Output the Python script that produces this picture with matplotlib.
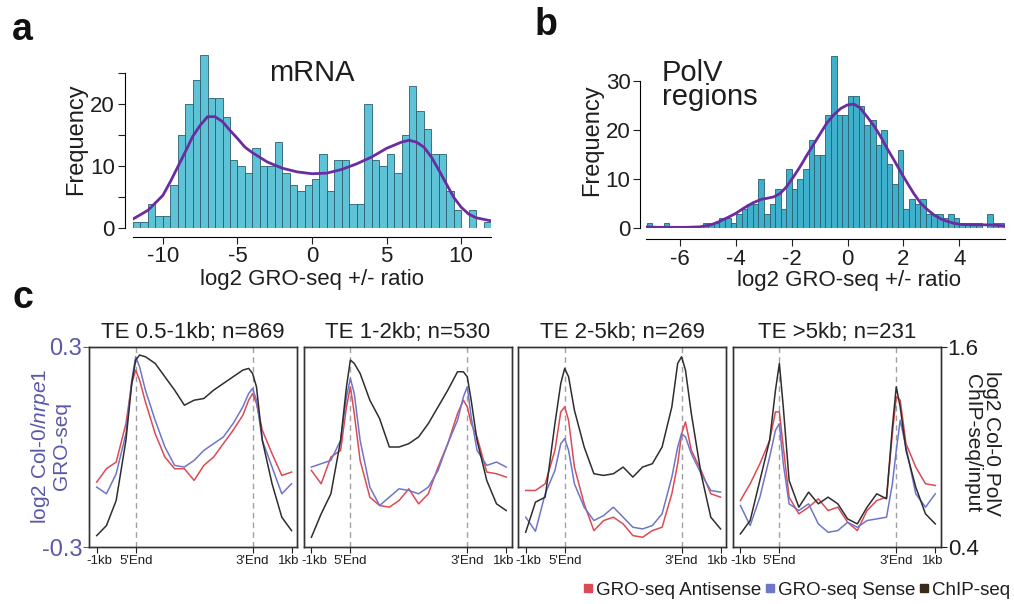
import numpy as np
import matplotlib
matplotlib.use("Agg")
import matplotlib.pyplot as plt
import matplotlib.transforms as mtransforms
from matplotlib.lines import Line2D

plt.rcParams['font.family'] = ['Liberation Sans', 'DejaVu Sans']
plt.rcParams['mathtext.fontset'] = 'custom'
plt.rcParams['mathtext.it'] = 'Liberation Sans:italic'
plt.rcParams['mathtext.rm'] = 'Liberation Sans'
plt.rcParams['axes.unicode_minus'] = False

# ---------------- data: panel a ----------------
a_bin_width = 0.5
a_bin_start = -12.0
a_counts = [1, 1, 4, 2, 2, 7, 15, 20, 24, 28, 21, 21, 18, 11, 10, 9, 13, 10, 10, 14,
            9, 7, 6, 7, 8, 12, 6, 11, 11, 4, 4, 20, 11, 10, 12, 9, 15, 23, 19, 16,
            12, 12, 6, 3, 0, 3, 0, 1]
a_kde_x = [-12, -11, -10, -9.5, -9, -8.5, -8, -7.5, -7, -6.5, -6, -5.5, -5, -4.5, -4,
           -3, -2, -1, 0, 1, 2, 3, 4, 5, 5.5, 6, 6.5, 7, 7.5, 8, 8.5, 9, 9.5, 10,
           10.5, 11, 12]
a_kde_y = [1.5, 2.9, 5.3, 7.5, 9.9, 12.3, 14.8, 16.6, 18.0, 18.0, 17.2, 15.8, 14.5,
           13.1, 12.2, 10.7, 9.7, 9.1, 8.8, 8.9, 9.5, 10.4, 11.5, 12.9, 13.4, 13.9,
           14.2, 13.9, 13.1, 11.5, 9.4, 7.2, 5.0, 3.4, 2.3, 1.7, 1.2]

# ---------------- data: panel b ----------------
b_bin_width = 0.2
b_bin_start = -7.2
b_counts = [1, 0, 0, 1, 0, 0, 0, 0, 0, 0, 1, 1, 1, 2, 2, 1, 3, 4, 5, 5,
            10, 3, 5, 8, 4, 12, 8, 10, 12, 18, 15, 15, 23, 35, 23, 23, 27, 27, 25, 21,
            22, 17, 20, 13, 9, 16, 4, 6, 5, 6, 3, 3, 3, 2, 3, 2, 1, 1, 1, 1,
            0, 3, 1, 1]
b_kde_x = [-7.23, -6.8, -6.27, -5.8, -5.3, -4.9, -4.59, -4.3, -3.99, -3.7, -3.39, -3.1,
           -2.9, -2.65, -2.42, -2.2, -1.94, -1.7, -1.46, -1.2, -0.98, -0.75, -0.5,
           -0.25, -0.02, 0.22, 0.45, 0.7, 0.95, 1.18, 1.42, 1.66, 1.9, 2.14, 2.38,
           2.62, 2.86, 3.1, 3.34, 3.58, 3.82, 4.06, 4.54, 5.14, 5.6]
b_kde_y = [0.3, 0.2, 0.2, 0.2, 0.3, 0.7, 1.4, 2.2, 3.1, 4.2, 5.2, 5.9, 6.1, 6.4, 7.1,
           8.4, 10.5, 12.6, 14.9, 17.3, 19.3, 21.4, 23.1, 24.4, 25.1, 25.3, 24.5, 22.7,
           20.8, 18.7, 16.2, 13.9, 11.5, 9.2, 7.0, 5.1, 3.8, 2.7, 1.9, 1.4, 1.0, 0.8,
           0.7, 0.7, 0.5]

# ---------------- data: panel c ----------------
c_titles = ["TE 0.5-1kb; n=869", "TE 1-2kb; n=530", "TE 2-5kb; n=269", "TE >5kb; n=231"]
c_x = [0, 0.25, 0.5, 0.75, 0.9, 1.0, 1.1, 1.25, 1.5, 1.75, 2.0, 2.25, 2.5, 2.75, 3.0,
       3.25, 3.5, 3.75, 3.9, 4.0, 4.1, 4.25, 4.5, 4.75, 5.0]
c_xticks = [0, 1, 4, 5]
c_xticklabels = ["-1kb", "5'End", "3'End", "1kb"]

sense_1 = [-0.12, -0.14, -0.08, 0.04, 0.20, 0.27, 0.24, 0.17, 0.08, 0.00, -0.055, -0.06,
           -0.04, -0.01, 0.01, 0.03, 0.07, 0.12, 0.16, 0.175, 0.14, 0.02, -0.06, -0.14, -0.11]
anti_1 = [-0.105, -0.065, -0.045, 0.07, 0.19, 0.23, 0.20, 0.135, 0.04, -0.03, -0.065, -0.065,
          -0.10, -0.055, -0.03, 0.01, 0.05, 0.095, 0.14, 0.16, 0.13, 0.05, -0.02, -0.085, -0.075]
chip_1 = [0.47, 0.53, 0.68, 1.04, 1.38, 1.52, 1.55, 1.54, 1.50, 1.42, 1.34, 1.25, 1.28,
          1.29, 1.34, 1.38, 1.42, 1.46, 1.47, 1.44, 1.36, 1.04, 0.78, 0.58, 0.50]

sense_2 = [-0.06, -0.05, -0.04, 0.02, 0.15, 0.205, 0.16, 0.02, -0.12, -0.175, -0.15, -0.125,
           -0.13, -0.14, -0.12, -0.07, 0.01, 0.08, 0.15, 0.18, 0.09, -0.01, -0.055, -0.045, -0.06]
anti_2 = [-0.07, -0.11, -0.03, -0.01, 0.12, 0.18, 0.10, -0.04, -0.15, -0.175, -0.18, -0.16,
          -0.125, -0.17, -0.14, -0.06, 0.01, 0.10, 0.14, 0.12, 0.07, 0.03, -0.075, -0.08, -0.09]
chip_2 = [0.46, 0.60, 0.72, 1.04, 1.36, 1.52, 1.50, 1.44, 1.28, 1.17, 1.00, 1.00, 1.02,
          1.06, 1.14, 1.24, 1.34, 1.45, 1.45, 1.42, 1.28, 1.04, 0.80, 0.66, 0.62]

sense_3 = [-0.21, -0.252, -0.14, -0.07, 0.01, 0.025, -0.01, -0.11, -0.18, -0.22, -0.205, -0.18,
           -0.21, -0.24, -0.245, -0.235, -0.20, -0.09, 0.00, 0.04, 0.03, -0.02, -0.08, -0.13, -0.135]
anti_3 = [-0.13, -0.13, -0.11, -0.01, 0.105, 0.12, 0.08, -0.06, -0.17, -0.25, -0.22, -0.21,
          -0.23, -0.265, -0.27, -0.25, -0.24, -0.14, -0.05, 0.04, 0.075, -0.01, -0.07, -0.14, -0.15]
chip_3 = [0.49, 0.67, 0.70, 1.14, 1.38, 1.47, 1.42, 1.22, 1.00, 0.84, 0.83, 0.84, 0.88,
          0.82, 0.88, 0.90, 1.00, 1.24, 1.50, 1.54, 1.46, 1.20, 0.84, 0.58, 0.51]

sense_4 = [-0.175, -0.235, -0.15, -0.03, 0.05, 0.07, -0.05, -0.17, -0.19, -0.17, -0.23, -0.255,
           -0.25, -0.225, -0.24, -0.22, -0.215, -0.21, -0.11, -0.01, 0.08, 0.00, -0.14, -0.18, -0.14]
anti_4 = [-0.16, -0.11, -0.05, 0.02, 0.105, 0.105, 0.00, -0.15, -0.20, -0.18, -0.155, -0.19,
          -0.18, -0.225, -0.25, -0.19, -0.16, -0.15, 0.04, 0.15, 0.14, 0.01, -0.06, -0.11, -0.115]
chip_4 = [0.48, 0.56, 0.80, 1.04, 1.34, 1.50, 1.24, 0.80, 0.64, 0.73, 0.66, 0.70, 0.66,
          0.57, 0.54, 0.64, 0.72, 0.69, 1.12, 1.36, 1.24, 0.98, 0.76, 0.60, 0.54]

sense_all = [sense_1, sense_2, sense_3, sense_4]
anti_all = [anti_1, anti_2, anti_3, anti_4]
chip_all = [chip_1, chip_2, chip_3, chip_4]

legend_labels = ["GRO-seq Antisense", "GRO-seq Sense", "ChIP-seq"]

# ---------------- styles ----------------
W, H = 1014, 604
BAR_A = '#5ec3d6'
BAR_B = '#3eb0cb'
BAR_EDGE = '#2b5f70'
KDE_C = '#6a2ca0'
RED = '#dc4a55'
BLUE = '#6f76c9'
BLACK = '#2e2e2e'
LBLUE = '#5a58a8'
TXT = '#1e1e1e'


def px(x0, y_top, w, h):
    return [x0 / W, 1 - (y_top + h) / H, w / W, h / H]


fig = plt.figure(figsize=(W / 100, H / 100), dpi=100)

# ---------- panel a ----------
A_TOP = 28.6
a_edges = a_bin_start + a_bin_width * np.arange(len(a_counts))
ax_a = fig.add_axes(px(133, 228.3 - A_TOP * 6.2, 358, A_TOP * 6.2))
ax_a.bar(a_edges, a_counts, width=a_bin_width, align='edge', color=BAR_A,
         edgecolor=BAR_EDGE, linewidth=0.6)
ax_a.plot(a_kde_x, a_kde_y, color=KDE_C, lw=2.0)
ax_a.set_xlim(-12, 12)
ax_a.set_ylim(0, A_TOP)
for s in ['top', 'right']:
    ax_a.spines[s].set_visible(False)
ax_a.spines['left'].set_position(('outward', 6))
ax_a.spines['left'].set_bounds(0, 25)
ax_a.spines['bottom'].set_position(('outward', 6))
ax_a.spines['bottom'].set_bounds(-12, 12)
ax_a.set_xticks([-10, -5, 0, 5, 10])
ax_a.set_yticks([0, 5, 10, 15, 20, 25])
ax_a.set_yticklabels(['0', '', '10', '', '20', ''])
ax_a.tick_params(labelsize=16, length=5, colors=TXT, pad=2)
ax_a.set_xlabel("log2 GRO-seq +/- ratio", fontsize=16, color=TXT, labelpad=1)
ax_a.set_ylabel("Frequency", fontsize=17, color=TXT, labelpad=2)
ax_a.text(0, 25.0, "mRNA", fontsize=21, ha='center', va='center', color=TXT)

# ---------- panel b ----------
b_edges = b_bin_start + b_bin_width * np.arange(len(b_counts))
ax_b = fig.add_axes(px(645.7, 228.3 - 36 * 4.91, 359.3, 36 * 4.91))
ax_b.bar(b_edges, b_counts, width=b_bin_width, align='edge', color=BAR_B,
         edgecolor=BAR_EDGE, linewidth=0.6)
ax_b.plot(b_kde_x, b_kde_y, color=KDE_C, lw=2.0)
ax_b.set_xlim(-7.24, 5.64)
ax_b.set_ylim(0, 36)
for s in ['top', 'right']:
    ax_b.spines[s].set_visible(False)
ax_b.spines['left'].set_position(('outward', 4))
ax_b.spines['left'].set_bounds(0, 30)
ax_b.spines['bottom'].set_position(('outward', 8))
ax_b.set_xticks([-6, -4, -2, 0, 2, 4])
ax_b.set_yticks([0, 10, 20, 30])
ax_b.tick_params(labelsize=16, length=5, colors=TXT, pad=2)
ax_b.set_xlabel("log2 GRO-seq +/- ratio", fontsize=16, color=TXT, labelpad=1)
ax_b.xaxis.set_label_coords((849 - 645.7) / 359.3, -0.235)
ax_b.set_ylabel("Frequency", fontsize=17, color=TXT, labelpad=2)
ax_b.text(0.045, 0.955, "PolV\nregions", transform=ax_b.transAxes, fontsize=21,
          ha='left', va='top', color=TXT, linespacing=0.8)

# ---------- panel c ----------
lefts = [89.3, 304, 518.3, 733]
shifts = [2.5, 0, 0, -2.5]
for i in range(4):
    ax = fig.add_axes(px(lefts[i], 346.7, 207.7, 200.6))
    ax2 = ax.twinx()
    ax.plot(c_x, anti_all[i], color=RED, lw=1.1)
    ax.plot(c_x, sense_all[i], color=BLUE, lw=1.1)
    ax2.plot(c_x, chip_all[i], color=BLACK, lw=1.1)
    for v in [1, 4]:
        ax.axvline(v, color='#a0a0a0', ls=(0, (4, 3)), lw=1.0, zorder=0)
    ax.set_xlim(-0.19, 5.14)
    ax.set_ylim(-0.3, 0.3)
    ax2.set_ylim(0.4, 1.6)
    ax.set_xticks(c_xticks)
    ax.set_xticklabels(c_xticklabels)
    ax.tick_params(axis='x', labelsize=9.5, length=4, pad=1.5, colors=TXT)
    for lab, sh in zip(ax.get_xticklabels(), shifts):
        lab.set_transform(lab.get_transform() +
                          mtransforms.ScaledTranslation(sh / 100, 0, fig.dpi_scale_trans))
    for a_ in (ax, ax2):
        for s in a_.spines.values():
            s.set_color('#333333')
            s.set_linewidth(1.0)
    if i == 0:
        ax.set_yticks([-0.3, 0.3])
        ax.set_yticklabels(['-0.3', '0.3'])
        ax.tick_params(axis='y', labelsize=17, length=4, pad=1, colors=LBLUE)
    else:
        ax.set_yticks([])
    if i == 3:
        ax2.set_yticks([0.4, 1.6])
        ax2.set_yticklabels(['0.4', '1.6'])
        ax2.tick_params(axis='y', labelsize=16, length=4, pad=1, colors=TXT)
    else:
        ax2.set_yticks([])
    ax.set_title(c_titles[i], fontsize=16, pad=6, color=TXT)

fig.text(50 / W, 1 - 446 / H, "log2 Col-0/$\\it{nrpe1}$\nGRO-seq", rotation=90,
         ha='center', va='center', fontsize=15, color=LBLUE, multialignment='center',
         linespacing=1.0)
fig.text(982 / W, 1 - 443 / H, "log2 Col-0 PolV\nChIP-seq/input", rotation=270,
         ha='center', va='center', fontsize=15, color=TXT, multialignment='center',
         linespacing=1.0)

# legend
handles = [Line2D([], [], marker='s', ls='', color=c, markersize=6)
           for c in [RED, BLUE, '#3a2a1a']]
fig.legend(handles, legend_labels, ncol=3, loc='center left',
           bbox_to_anchor=(582 / W, 1 - 590 / H), frameon=False, fontsize=13.5,
           handlelength=0.6, handletextpad=0.15, columnspacing=0.15, borderpad=0,
           borderaxespad=0, labelcolor=TXT)

# panel letters
fig.text(12 / W, 1 - 30 / H, "a", fontsize=27, fontweight='bold', ha='left', va='center', color='#111111')
fig.text(535 / W, 1 - 25 / H, "b", fontsize=27, fontweight='bold', ha='left', va='center', color='#111111')
fig.text(12 / W, 1 - 298 / H, "c", fontsize=27, fontweight='bold', ha='left', va='center', color='#111111')

fig.savefig("out.png", dpi=100)
